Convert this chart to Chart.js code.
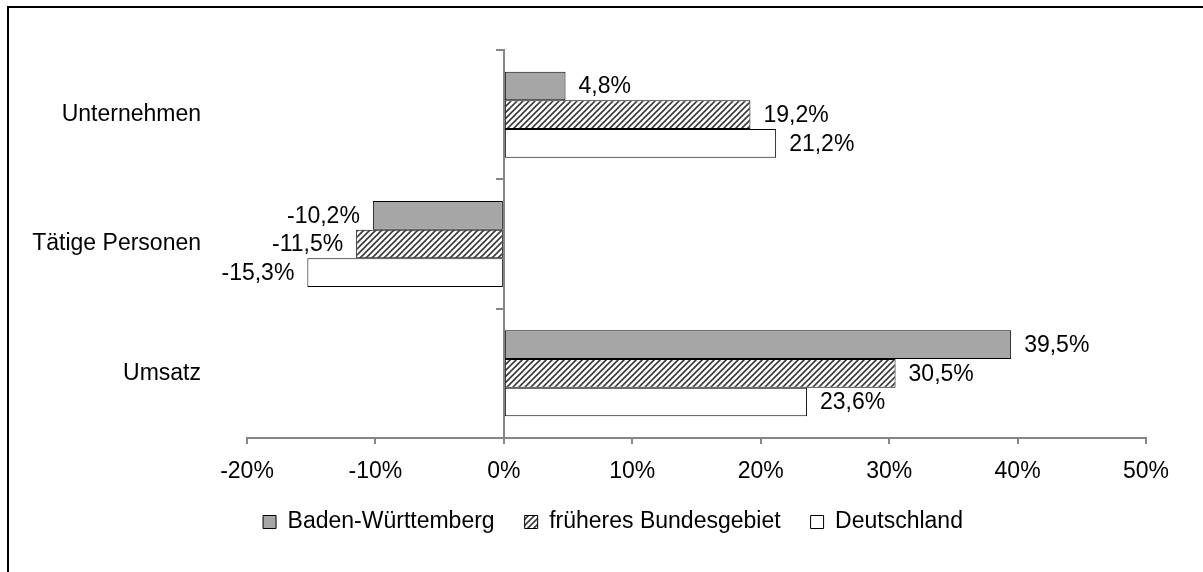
<!DOCTYPE html>
<html>
<head>
<meta charset="utf-8">
<script src="https://cdn.jsdelivr.net/npm/chart.js@4/dist/chart.umd.min.js"></script>
<style>
  html, body { margin: 0; padding: 0; background: #fff; overflow: hidden; }
  #wrap { position: relative; width: 1203px; height: 572px; }
  #frame { position: absolute; left: 7px; top: 6px; width: 1400px; height: 800px;
           border-top: 2px solid #000; border-left: 2px solid #000; }
  #c { position: absolute; left: 0; top: 0; }
</style>
</head>
<body>
<div id="wrap">
  <div id="frame"></div>
  <canvas id="c" width="1203" height="572"></canvas>
</div>
<script>
// ---- data ----
const categories = ['Unternehmen', 'Tätige Personen', 'Umsatz'];
const seriesNames = ['Baden-Württemberg', 'früheres Bundesgebiet', 'Deutschland'];
const badenWuerttemberg = [4.8, -10.2, 39.5];
const fruheresBundesgebiet = [19.2, -11.5, 30.5];
const deutschland = [21.2, -15.3, 23.6];
const xMin = -20, xMax = 50, xStep = 10;

// ---- styles ----
const FONT_FAMILY = '"Liberation Sans", Arial, sans-serif';
const FONT_SIZE = 23;
const AXIS_COLOR = '#868686';

const canvas = document.getElementById('c');
const ctx = canvas.getContext('2d');

function makeHatch() {
  const s = 6;
  const t = document.createElement('canvas');
  t.width = s; t.height = s;
  const g = t.getContext('2d');
  g.fillStyle = '#ffffff';
  g.fillRect(0, 0, s, s);
  g.strokeStyle = '#3a3a3a';
  g.lineWidth = 1.6;
  g.beginPath();
  g.moveTo(-1, s + 1); g.lineTo(s + 1, -1);
  g.moveTo(-1, 1); g.lineTo(1, -1);
  g.moveTo(s - 1, s + 1); g.lineTo(s + 1, s - 1);
  g.stroke();
  return ctx.createPattern(t, 'repeat');
}
const hatch = makeHatch();

const valueLabels = {
  id: 'valueLabels',
  afterDatasetsDraw(chart) {
    const c = chart.ctx;
    c.save();
    c.font = FONT_SIZE + 'px ' + FONT_FAMILY;
    c.fillStyle = '#000';
    c.textBaseline = 'middle';
    chart.data.datasets.forEach((ds, i) => {
      chart.getDatasetMeta(i).data.forEach((bar, j) => {
        const v = ds.data[j];
        const txt = v.toFixed(1).replace('.', ',') + '%';
        if (v >= 0) { c.textAlign = 'left'; c.fillText(txt, bar.x + 13, bar.y + 1); }
        else { c.textAlign = 'right'; c.fillText(txt, bar.x - 13, bar.y + 1); }
      });
    });
    c.restore();
  }
};

Chart.defaults.font.family = FONT_FAMILY;
Chart.defaults.font.size = FONT_SIZE;
Chart.defaults.color = '#000';

new Chart(ctx, {
  type: 'bar',
  data: {
    labels: categories,
    datasets: [
      { label: seriesNames[0], data: badenWuerttemberg, backgroundColor: '#a6a6a6' },
      { label: seriesNames[1], data: fruheresBundesgebiet, backgroundColor: hatch },
      { label: seriesNames[2], data: deutschland, backgroundColor: '#ffffff' }
    ]
  },
  options: {
    responsive: false,
    animation: false,
    indexAxis: 'y',
    layout: { padding: { left: 23, right: 0, top: 50, bottom: 28.5 } },
    datasets: {
      bar: {
        barPercentage: 1,
        categoryPercentage: 0.665,
        borderColor: '#000',
        borderWidth: 1,
        borderSkipped: false
      }
    },
    scales: {
      x: {
        type: 'linear',
        position: 'bottom',
        min: xMin, max: xMax,
        ticks: { stepSize: xStep, padding: 14, callback: v => v + '%', color: '#000' },
        grid: { drawOnChartArea: false, drawTicks: true, tickLength: 6, color: AXIS_COLOR, lineWidth: 2 },
        border: { display: true, color: AXIS_COLOR, width: 2 },
        afterFit(s) { s.height = 42.5; }
      },
      y: {
        type: 'category',
        position: 'left',
        offset: true,
        ticks: { padding: 46, color: '#000' },
        grid: { display: false, drawTicks: false },
        border: { display: false },
        afterFit(s) { s.width = 224; s.paddingTop = 0; s.paddingBottom = 0; }
      },
      y0: {
        type: 'category',
        axis: 'y',
        position: { x: 0 },
        offset: true,
        ticks: { display: false },
        grid: { drawOnChartArea: false, offset: true, tickLength: 7, color: AXIS_COLOR, lineWidth: 2 },
        border: { display: true, color: AXIS_COLOR, width: 2 },
        afterFit(s) { s.paddingTop = 0; s.paddingBottom = 0; }
      },
      spacerRight: {
        type: 'linear',
        axis: 'y',
        position: 'right',
        min: 0, max: 1,
        ticks: { display: false },
        grid: { display: false, drawTicks: false },
        border: { display: false },
        afterFit(s) { s.width = 57; s.paddingTop = 0; s.paddingBottom = 0; }
      }
    },
    plugins: {
      legend: {
        position: 'bottom',
        labels: { boxWidth: 13, boxHeight: 13, padding: 30, color: '#000',
                  font: { size: FONT_SIZE, family: FONT_FAMILY } }
      },
      tooltip: { enabled: false }
    }
  },
  plugins: [valueLabels]
});
</script>
</body>
</html>
